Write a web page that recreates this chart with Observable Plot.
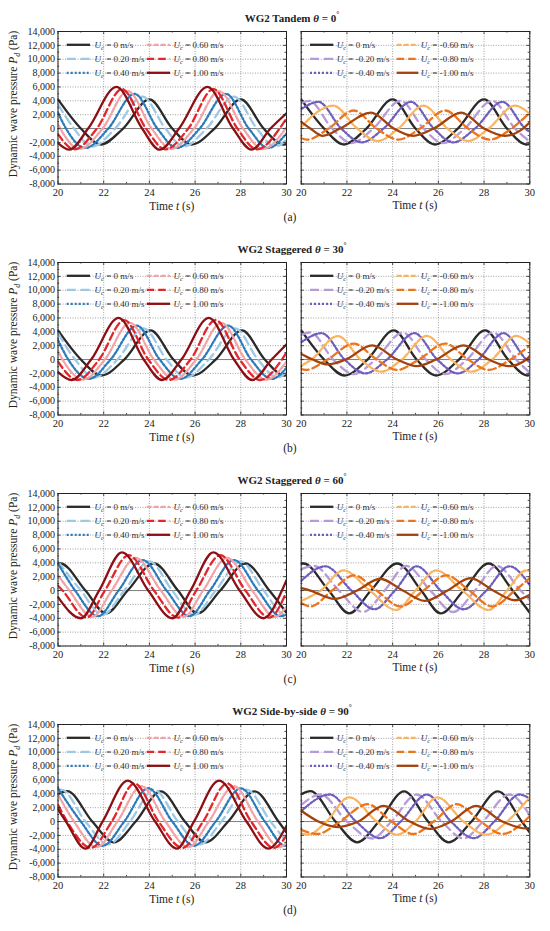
<!DOCTYPE html>
<html><head><meta charset="utf-8">
<script src="https://cdn.jsdelivr.net/npm/d3@7"></script>
<script src="https://cdn.jsdelivr.net/npm/@observablehq/plot@0.6"></script>
<style>
body{margin:0;background:#fff;}
#fig{position:relative;width:550px;height:931px;overflow:hidden;font-family:"Liberation Serif","DejaVu Serif",serif;color:#222;}
.ttl{position:absolute;left:0;width:584px;text-align:center;font-weight:bold;font-size:11px;line-height:14px;}
.ttl sup{font-size:7.5px;vertical-align:5px;line-height:0;}
.lab{position:absolute;left:0;width:580px;text-align:center;font-size:11.5px;line-height:14px;}
</style></head>
<body><div id="fig"></div>
<script>
// ---------- tick values and labels ----------
const xTicks = [20, 22, 24, 26, 28, 30];
const xMinor = [21, 23, 25, 27, 29];
const yTicks = [-8000, -6000, -4000, -2000, 0, 2000, 4000, 6000, 8000, 10000, 12000, 14000];
const yMinor = [-7000, -5000, -3000, -1000, 1000, 3000, 5000, 7000, 9000, 11000, 13000];
const titles = ["WG2 Tandem", "WG2 Staggered", "WG2 Staggered", "WG2 Side-by-side"];
const angles = ["0", "30", "60", "90"];
const rowLetters = ["(a)", "(b)", "(c)", "(d)"];
const posLabels = ["0", "0.20", "0.40", "0.60", "0.80", "1.00"];
const negLabels = ["0", "-0.20", "-0.40", "-0.60", "-0.80", "-1.00"];
const posColors = ["#2a2a2a", "#9dc9e5", "#2b7bbb", "#f3a3a6", "#e2262c", "#8c0f14"];
const negColors = ["#2a2a2a", "#b79bd8", "#6e5fbf", "#f9b45f", "#ee741c", "#a3420c"];
const lineDashes = [null, "9,5", "2,2", "5,2", "7.5,4", null];

// ---------- data: [time t (s), dynamic wave pressure Pd (Pa)] ----------
// (a) Tandem 0°
const A_U0 = [[20,4200],[21.0,0],[21.87,-2300],[22.85,0],[24.0,4200],[25.0,0],[25.85,-2300],[26.85,0],[28.0,4200],[29.0,0],[29.85,-2300],[30,-2250]];
const A_pos = [
 [[20,3500],[20.7,0],[21.5,-2600],[22.5,0],[23.7,4600],[24.7,0],[25.5,-2600],[26.5,0],[27.7,4600],[28.7,0],[29.5,-2600],[30,-1600]],
 [[20,2300],[20.35,0],[21.2,-2800],[22.2,0],[23.35,5000],[24.35,0],[25.2,-2800],[26.2,0],[27.35,5000],[28.35,0],[29.2,-2800],[30,-700]],
 [[20,600],[20.1,0],[20.95,-2950],[21.95,0],[23.05,5400],[24.1,0],[24.95,-2950],[25.95,0],[27.05,5400],[28.1,0],[28.95,-2950],[29.95,0],[30,250]],
 [[20,-800],[20.72,-3000],[21.7,0],[22.8,5700],[23.85,0],[24.7,-3000],[25.7,0],[26.8,5700],[27.85,0],[28.7,-3000],[29.7,0],[30,1500]],
 [[20,-2100],[20.5,-3050],[21.32,0],[22.56,6000],[23.68,0],[24.45,-3050],[25.3,0],[26.54,6000],[27.66,0],[28.47,-3050],[29.3,0],[30,2200]]
];
const A_neg = [
 [[20,3700],[20.35,4000],[21.35,0],[22.2,-2100],[23.15,0],[24.35,4000],[25.35,0],[26.2,-2100],[27.15,0],[28.35,4000],[29.35,0],[30,-1900]],
 [[20,2800],[20.75,3850],[21.75,0],[22.65,-2000],[23.6,0],[24.8,3850],[25.8,0],[26.65,-2000],[27.6,0],[28.8,3850],[29.8,0],[30,-500]],
 [[20,200],[20.55,2000],[21.4,3300],[22.45,0],[23.35,-1800],[24.25,0],[25.35,3300],[26.4,0],[27.3,-1800],[28.2,0],[29.35,3300],[30,2100]],
 [[20,-1400],[20.25,-1600],[21.2,0],[22.3,2600],[23.3,0],[24.25,-1600],[25.2,0],[26.3,2600],[27.3,0],[28.25,-1600],[29.2,0],[30,2300]],
 [[20,950],[20.4,0],[20.95,-1050],[21.7,0],[23.05,2300],[24.05,0],[24.9,-1050],[25.8,0],[27.0,2300],[28.0,0],[28.9,-1050],[29.7,0],[30,900]]
];
// (b) Staggered 30°
const B_U0 = [[20,4200],[21.0,0],[21.9,-2300],[22.9,0],[24.05,4200],[25.05,0],[25.9,-2300],[26.9,0],[28.05,4200],[29.05,0],[29.9,-2300],[30,-2250]];
const B_pos = [
 [[20,3800],[20.75,0],[21.6,-2600],[22.6,0],[23.75,4500],[24.75,0],[25.6,-2600],[26.6,0],[27.75,4500],[28.75,0],[29.6,-2600],[30,-1800]],
 [[20,2800],[20.45,0],[21.35,-2800],[22.3,0],[23.45,4900],[24.45,0],[25.35,-2800],[26.3,0],[27.45,4900],[28.45,0],[29.35,-2800],[30,-1200]],
 [[20,1200],[20.2,0],[21.1,-2900],[22.05,0],[23.15,5300],[24.2,0],[25.1,-2900],[26.05,0],[27.15,5300],[28.2,0],[29.1,-2900],[30,-300]],
 [[20,-300],[20.85,-2950],[21.8,0],[22.9,5700],[23.95,0],[24.85,-2950],[25.8,0],[26.9,5700],[27.95,0],[28.85,-2950],[29.8,0],[30,1000]],
 [[20,-1800],[20.6,-2950],[21.45,0],[22.65,6000],[23.75,0],[24.55,-2950],[25.4,0],[26.6,6000],[27.7,0],[28.5,-2950],[29.35,0],[30,2200]]
];
const B_neg = [
 [[20,3600],[20.4,3900],[21.4,0],[22.3,-2100],[23.25,0],[24.45,3900],[25.45,0],[26.3,-2100],[27.25,0],[28.4,3900],[29.4,0],[30,-1900]],
 [[20,2500],[20.9,3800],[21.9,0],[22.8,-2000],[23.75,0],[24.95,3800],[25.95,0],[26.85,-2000],[27.75,0],[28.85,3800],[29.85,0],[30,-400]],
 [[20,-900],[20.45,0],[21.6,3400],[22.6,0],[23.5,-1750],[24.4,0],[25.5,3400],[26.55,0],[27.45,-1750],[28.35,0],[29.4,3400],[30,2300]],
 [[20,-1400],[20.2,-1500],[21.15,0],[22.3,2300],[23.3,0],[24.2,-1500],[25.15,0],[26.3,2300],[27.3,0],[28.2,-1500],[29.15,0],[30,2000]],
 [[20,800],[20.5,0],[21.15,-700],[21.95,0],[23.1,2050],[24.2,0],[25.05,-950],[25.9,0],[27.1,2050],[28.2,0],[29.1,-950],[29.85,0],[30,500]]
];
// (c) Staggered 60°
const C_U0 = [[20,3850],[20.1,3900],[21.2,0],[22.1,-3300],[23.05,0],[24.2,3900],[25.25,0],[26.1,-3300],[27.1,0],[28.2,3900],[29.25,0],[30,-3200]];
const C_pos = [
 [[20,4200],[21.0,0],[21.95,-3500],[22.9,0],[24.0,4200],[25.0,0],[25.95,-3500],[26.9,0],[28.0,4200],[29.0,0],[29.95,-3500],[30,-3480]],
 [[20,3900],[20.75,0],[21.75,-3700],[22.65,0],[23.7,4400],[24.75,0],[25.75,-3700],[26.65,0],[27.7,4400],[28.75,0],[29.75,-3700],[30,-3500]],
 [[20,2200],[20.5,0],[21.5,-3800],[22.35,0],[23.4,4700],[24.5,0],[25.5,-3800],[26.35,0],[27.4,4700],[28.5,0],[29.5,-3800],[30,-2300]],
 [[20,700],[20.2,0],[21.25,-3900],[22.05,0],[23.1,5100],[24.2,0],[25.25,-3900],[26.05,0],[27.1,5100],[28.2,0],[29.25,-3900],[30,-200]],
 [[20,-950],[21.0,-4000],[21.8,0],[22.8,5500],[23.95,0],[25.0,-4000],[25.8,0],[26.8,5500],[27.95,0],[29.0,-4000],[29.8,0],[30,1500]]
];
const C_neg = [
 [[20,3100],[20.55,3550],[21.65,0],[22.7,-3100],[23.65,0],[24.6,3550],[25.65,0],[26.65,-3100],[27.6,0],[28.55,3550],[29.6,0],[30,-1400]],
 [[20,1400],[21.05,3500],[22.2,0],[23.2,-2700],[24.1,0],[25.05,3500],[26.1,0],[27.1,-2700],[28.1,0],[29.1,3500],[30,800]],
 [[20,-1500],[20.85,0],[21.85,2900],[23.0,0],[24.15,-2800],[25.0,0],[25.9,2900],[27.05,0],[28.2,-2800],[29.0,0],[29.85,2900],[30,2850]],
 [[20,-1800],[20.4,-2300],[21.35,0],[22.3,2200],[23.3,0],[24.35,-2300],[25.35,0],[26.35,2200],[27.35,0],[28.35,-2300],[29.35,0],[30,1800]],
 [[20,350],[20.4,0],[21.45,-1200],[22.45,0],[23.45,1700],[24.45,0],[25.4,-1500],[26.4,0],[27.4,1800],[28.4,0],[29.35,-1400],[30,-600]]
];
// (d) Side-by-side 90°
const D_U0 = [[20,3950],[20.4,4400],[21.5,0],[22.45,-3000],[23.4,0],[24.5,4350],[25.55,0],[26.45,-3000],[27.45,0],[28.6,4350],[29.65,0],[30,-1600]];
const D_pos = [
 [[20,4500],[20.15,4600],[21.2,0],[22.2,-3300],[23.15,0],[24.2,4600],[25.25,0],[26.2,-3300],[27.15,0],[28.25,4600],[29.3,0],[30,-2900]],
 [[20,4800],[21.0,0],[21.95,-3500],[22.9,0],[23.95,4800],[25.0,0],[25.95,-3500],[26.9,0],[28.0,4800],[29.05,0],[29.95,-3500],[30,-3480]],
 [[20,3900],[20.7,0],[21.7,-3700],[22.6,0],[23.65,5100],[24.7,0],[25.7,-3700],[26.6,0],[27.7,5100],[28.75,0],[29.7,-3700],[30,-3000]],
 [[20,2400],[20.4,0],[21.45,-3800],[22.35,0],[23.35,5500],[24.4,0],[25.45,-3800],[26.35,0],[27.4,5500],[28.45,0],[29.45,-3800],[30,-2000]],
 [[20,1800],[20.35,0],[21.2,-3900],[21.95,0],[23.05,5900],[24.25,0],[25.2,-3900],[25.95,0],[27.05,5900],[28.25,0],[29.2,-3900],[30,-600]]
];
const D_neg = [
 [[20,2400],[20.85,3900],[22.0,0],[23.1,-2450],[23.95,0],[25.05,3900],[26.15,0],[27.1,-2450],[27.95,0],[29.1,3900],[30,900]],
 [[20,1500],[21.25,3900],[22.4,0],[23.45,-2400],[24.35,0],[25.5,3900],[26.55,0],[27.55,-2400],[28.45,0],[29.55,3900],[30,3300]],
 [[20,-1700],[20.3,-1900],[21.1,0],[22.1,3500],[23.3,0],[24.2,-1900],[25.0,0],[25.95,3500],[27.1,0],[28.1,-1900],[29.0,0],[30,3500]],
 [[20,-1200],[20.7,-1800],[21.7,0],[22.9,2500],[23.95,0],[24.9,-1800],[25.8,0],[26.8,2500],[27.85,0],[28.8,-1800],[29.75,0],[30,800]],
 [[20,1550],[20.75,0],[21.6,-800],[22.5,0],[23.6,2250],[24.75,0],[25.65,-1050],[26.55,0],[27.65,2250],[28.8,0],[29.85,-1000],[30,-950]]
];

const blacks = [A_U0, B_U0, C_U0, D_U0];
const posSets = [A_pos, B_pos, C_pos, D_pos];
const negSets = [A_neg, B_neg, C_neg, D_neg];

// ---------- layout ----------
const fig = document.getElementById("fig");
const ROW = 231;
const MT = 10, FH = 152.5, MB = 40;
const fmtY = d => (d < 0 ? "-" : "") + d3.format(",")(Math.abs(d));
const txMaj = 0.13, txMin = 0.07, tyMaj = 430, tyMin = 230;

function panel(row, side) {
  const isLeft = side === 0;
  const series = [blacks[row], ...(isLeft ? posSets[row] : negSets[row])];
  const colors = isLeft ? posColors : negColors;
  const labels = isLeft ? posLabels : negLabels;
  const ml = isLeft ? 57.5 : 10.7;
  const fw = isLeft ? 228.5 : 228.6;
  const mr = 12;
  const tick = {stroke: "#222", strokeWidth: 0.8};
  const marks = [
    Plot.gridX({ticks: xTicks, stroke: "#7a7a7a", strokeOpacity: 1, strokeWidth: 0.7, strokeDasharray: "1,1.5"}),
    Plot.gridY({ticks: yTicks, stroke: "#7a7a7a", strokeOpacity: 1, strokeWidth: 0.7, strokeDasharray: "1,1.5"}),
    Plot.ruleY([0], {stroke: "#808080", strokeWidth: 1}),
    ...series.map((pts, i) => Plot.line(pts, {
      x: d => d[0], y: d => d[1], stroke: colors[i], strokeWidth: 2.3,
      strokeDasharray: lineDashes[i], curve: "monotone-x", clip: true
    })),
    Plot.ruleX(xTicks, {y1: -8000, y2: -8000 + tyMaj, ...tick}),
    Plot.ruleX(xMinor, {y1: -8000, y2: -8000 + tyMin, ...tick}),
    Plot.ruleX(xTicks, {y1: 14000, y2: 14000 - tyMaj, ...tick}),
    Plot.ruleX(xMinor, {y1: 14000, y2: 14000 - tyMin, ...tick}),
    Plot.ruleY(yTicks, {x1: 20, x2: 20 + txMaj, ...tick}),
    Plot.ruleY(yMinor, {x1: 20, x2: 20 + txMin, ...tick}),
    Plot.ruleY(yTicks, {x1: 30, x2: 30 - txMaj, ...tick}),
    Plot.ruleY(yMinor, {x1: 30, x2: 30 - txMin, ...tick}),
    Plot.frame({stroke: "#222", strokeWidth: 1}),
    Plot.axisX({ticks: xTicks, tickSize: 0, tickPadding: 5, label: null, fontSize: 10.5})
  ];
  if (isLeft) marks.push(Plot.axisY({ticks: yTicks, tickSize: 0, tickPadding: 3, tickFormat: fmtY, label: null, fontSize: 10}));
  const svg = Plot.plot({
    width: ml + fw + mr, height: MT + FH + MB,
    marginLeft: ml, marginRight: mr, marginTop: MT, marginBottom: MB,
    x: {domain: [20, 30], axis: null},
    y: {domain: [-8000, 14000], axis: null},
    style: {background: "transparent", overflow: "visible", fontFamily: "Liberation Serif, serif", fontSize: "10px", color: "#222"},
    marks
  });
  svg.style.position = "absolute";
  svg.style.left = (isLeft ? 0 : 290) + "px";
  svg.style.top = (20.5 + ROW * row) + "px";
  const s = d3.select(svg);
  // legend
  const cols = isLeft
    ? [{x1: 9.2, x2: 32.5, tx: 37}, {x1: 89.2, x2: 112.5, tx: 116}]
    : [{x1: 9.3, x2: 32.6, tx: 36}, {x1: 96, x2: 117.6, tx: 120}];
  const rowsY = [13.8, 27.8, 41.8];
  const g = s.append("g").attr("font-family", "Liberation Serif, serif").attr("fill", "#333").attr("text-anchor", "start");
  labels.forEach((lab, i) => {
    const c = cols[Math.floor(i / 3)], y = MT + rowsY[i % 3];
    g.append("line").attr("x1", ml + c.x1).attr("x2", ml + c.x2).attr("y1", y).attr("y2", y)
      .attr("stroke", colors[i]).attr("stroke-width", 2.3).attr("stroke-dasharray", lineDashes[i]);
    const t = g.append("text").attr("x", ml + c.tx).attr("y", y + 3).attr("font-size", 9).attr("text-anchor", "start");
    t.append("tspan").attr("font-style", "italic").text("U");
    t.append("tspan").attr("font-style", "italic").attr("font-size", 6.5).attr("dy", 2.5).text("c");
    t.append("tspan").attr("dy", -2.5).text(" = " + lab + " m/s");
  });
  // x label
  const xl = s.append("text").attr("x", ml + fw / 2).attr("y", MT + FH + 26).attr("text-anchor", "middle")
    .attr("font-size", 11.5).attr("font-family", "Liberation Serif, serif").attr("fill", "#222");
  xl.append("tspan").text("Time ");
  xl.append("tspan").attr("font-style", "italic").text("t");
  xl.append("tspan").text(" (s)");
  // y label
  if (isLeft) {
    const yl = s.append("text").attr("transform", "translate(17,83) rotate(-90)").attr("text-anchor", "middle")
      .attr("font-size", 11.5).attr("font-family", "Liberation Serif, serif").attr("fill", "#222");
    yl.append("tspan").text("Dynamic wave pressure ");
    yl.append("tspan").attr("font-style", "italic").text("P");
    yl.append("tspan").attr("font-style", "italic").attr("font-size", 8).attr("dy", 3).text("d");
    yl.append("tspan").attr("dy", -3).text(" (Pa)");
  }
  fig.appendChild(svg);
}

for (let r = 0; r < 4; r++) {
  const t = document.createElement("div");
  t.className = "ttl";
  t.style.top = (11 + ROW * r) + "px";
  t.innerHTML = titles[r] + " <i>θ</i> = " + angles[r] + "<sup>°</sup>";
  fig.appendChild(t);
  panel(r, 0);
  panel(r, 1);
  const l = document.createElement("div");
  l.className = "lab";
  l.style.top = (210 + ROW * r) + "px";
  l.textContent = rowLetters[r];
  fig.appendChild(l);
}
</script>
</body></html>
